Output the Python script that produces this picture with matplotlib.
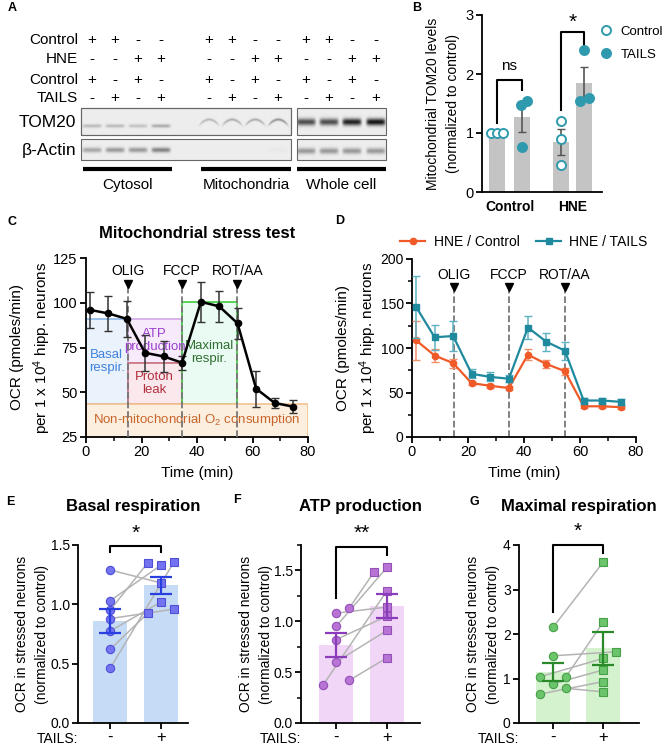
import numpy as np
import matplotlib.pyplot as plt
from matplotlib.patches import Rectangle
from matplotlib.lines import Line2D

plt.rcParams['font.family'] = ['Liberation Sans', 'DejaVu Sans']
plt.rcParams['mathtext.fontset'] = 'custom'
plt.rcParams['mathtext.rm'] = 'Liberation Sans'
plt.rcParams['mathtext.it'] = 'Liberation Sans:italic'
plt.rcParams['axes.linewidth'] = 1.3
plt.rcParams['xtick.major.width'] = 1.3
plt.rcParams['ytick.major.width'] = 1.3
plt.rcParams['xtick.minor.width'] = 1.1
plt.rcParams['ytick.minor.width'] = 1.1

# ---------------- data ----------------
# A: western blot (band darkness per lane)
a_rows = ['Control', 'HNE', 'Control', 'TAILS']
a_signs = [['+', '+', '-', '-'],
           ['-', '-', '+', '+'],
           ['+', '-', '+', '-'],
           ['-', '+', '-', '+']]
a_fractions = ['Cytosol', 'Mitochondria', 'Whole cell']
a_tom20 = [[0.20, 0.20, 0.17, 0.26],
           [0.22, 0.26, 0.26, 0.36],
           [0.62, 0.62, 0.80, 0.85]]
a_actin = [[0.28, 0.33, 0.33, 0.42],
           [0.0, 0.0, 0.0, 0.02],
           [0.33, 0.33, 0.33, 0.33]]

# B: mitochondrial TOM20
b_groups = ['Control', 'HNE']
b_ctrl = [[1.0, 1.0, 1.0], [1.2, 0.9, 0.45]]
b_tails = [[1.47, 1.55, 0.77], [2.4, 1.55, 1.6]]

# C / D: stress test
t_min = [1.5, 8.1, 14.7, 21.3, 28.0, 34.6, 41.4, 48.0, 54.6, 61.3, 68.0, 74.5]
c_ocr = [96, 94, 91, 72, 70, 66.5, 100.5, 98, 88.5, 52, 44, 42]
c_err = [10, 10, 10, 10, 8.5, 4, 11, 8.5, 8.5, 10, 3, 3.5]
c_regions = ['Basal\nrespir.', 'ATP\nproduction', 'Proton\nleak',
             'Maximal\nrespir.', 'Non-mitochondrial O$_2$ consumption']
c_bounds = [(0, 15, 43.5, 91), (15, 34.5, 66.5, 91), (15, 34.5, 43.5, 66.5),
            (34.5, 54.5, 43.5, 100.5), (0, 80, 25, 43.5)]
d_hne_ctrl = [108.5, 91.5, 83, 60.5, 57.5, 55, 92.5, 82, 74, 34.5, 34.5, 33.5]
d_hne_ctrl_err = [21.5, 7, 5, 2, 2, 2, 6, 4, 4, 1.5, 1.5, 1.5]
d_hne_tails = [146, 112, 113.5, 71, 67.5, 65.5, 123, 107, 97, 41, 41, 39.5]
d_hne_tails_err = [35, 14, 17, 5, 5, 4, 13, 10, 10, 3, 3, 3]
injections = ['OLIG', 'FCCP', 'ROT/AA']
inj_time = [15, 34.5, 54.5]

# E / F / G: paired values (TAILS -, TAILS +)
e_ctrl = [1.29, 1.03, 0.95, 0.88, 0.775, 0.62, 0.46]
e_tails = [1.18, 1.33, 1.35, 0.96, 1.02, 0.925, 1.36]
f_ctrl = [1.08, 1.13, 0.95, 0.82, 0.60, 0.42, 0.37]
f_tails = [1.14, 1.48, 1.53, 1.05, 0.91, 0.64, 1.30]
g_ctrl = [2.15, 1.51, 1.04, 1.04, 0.88, 0.78, 0.65]
g_tails = [3.61, 1.60, 2.26, 1.45, 1.19, 0.70, 0.93]
# horizontal jitter slots of the dots
e_dx = ([0, 0, 0, 0, 0, 0, 0], [0, 0, -1, 1, 0, -1, 1])
f_dx = ([0, 1, 0, 0, 0, 1, -1], [0, -1, 0, 0, 0, 0, 0])
g_dx = ([0, 0, 1, -1, 0, 1, -1], [0, 1, 0, 0, 0, 0, 0])

# ---------------- figure ----------------
W, H = 672, 748
fig = plt.figure(figsize=(6.72, 7.48), dpi=100)
ov = fig.add_axes([0, 0, 1, 1])
ov.axis('off')


def px_axes(l, t, r, b):
    return fig.add_axes([l / W, 1 - b / H, (r - l) / W, (b - t) / H])


def T(x, y, s, **kw):
    kw.setdefault('ha', 'center')
    kw.setdefault('va', 'center')
    ov.text(x, y, s, **kw)


def clean(ax):
    ax.spines['top'].set_visible(False)
    ax.spines['right'].set_visible(False)
    ax.tick_params(direction='out', length=4, labelsize=10.5, pad=2)
    ax.tick_params(which='minor', length=3)


# panel letters
for s, x, y in [('A', 8, 8), ('B', 412, 8), ('C', 8, 222), ('D', 335, 221),
                ('E', 6, 502), ('F', 233, 500), ('G', 470, 502)]:
    T(x, y, s, fontsize=9, fontweight='bold', ha='left')

# ---- A ----
lane_x = [[92, 115, 138, 161], [209, 232, 255, 278], [306, 329, 352, 376]]
row_y = [40, 59, 80, 98]
for r, lab in enumerate(a_rows):
    T(78, row_y[r], lab, fontsize=11, ha='right')
    for lx in lane_x:
        for k, x in enumerate(lx):
            T(x, row_y[r], a_signs[r][k], fontsize=11)


def blot(x0, x1, y0, y1, lanes, dark, yc, thick, curve=0.0, wid=19, edge=True):
    xs = np.linspace(x0, x1, int((x1 - x0) * 3))
    ys = np.linspace(y0, y1, int((y1 - y0) * 3))
    X, Y = np.meshgrid(xs, ys)
    img = np.full(X.shape, 0.93)
    for xc, d in zip(lanes, dark):
        yy = yc + curve * (X - xc) ** 2
        img -= d * np.exp(-((X - xc) / (wid / 2)) ** 8) * np.exp(-((Y - yy) / (thick / 2)) ** 2)
    ov.imshow(img, cmap='gray', vmin=0, vmax=1, extent=(x0, x1, y1, y0),
              aspect='auto', interpolation='bilinear')
    if edge:
        ov.add_patch(Rectangle((x0, y0), x1 - x0, y1 - y0, fill=False, ec='#666', lw=0.8))


blot(81, 291, 108, 135, lane_x[0] + lane_x[1], a_tom20[0] + [0, 0, 0, 0], 126, 3.5)
blot(196, 290.5, 108.5, 134.5, lane_x[1], a_tom20[1], 119, 2.5, curve=0.06, edge=False)
ov.add_patch(Rectangle((81, 108), 210, 27, fill=False, ec='#666', lw=0.8))
blot(297, 386, 108, 135, lane_x[2], a_tom20[2], 122, 7)
blot(81, 291, 139, 160, lane_x[0] + lane_x[1], a_actin[0] + a_actin[1], 150, 5)
blot(297, 386, 139, 160, lane_x[2], a_actin[2], 151, 6)
T(76, 122, 'TOM20', fontsize=12.5, ha='right')
T(76, 150, 'β-Actin', fontsize=12.5, ha='right')
for (x0, x1), lab in zip([(83, 172), (201, 291), (297, 386)], a_fractions):
    ov.plot([x0, x1], [169, 169], color='black', lw=3, solid_capstyle='butt')
    T((x0 + x1) / 2, 185, lab, fontsize=11)

# ---- B ----
axB = px_axes(482, 15, 602, 192)
clean(axB)
b_pos = [[0, 1], [2.56, 3.48]]
teal = '#2f9aae'
for g in range(2):
    for k, (pts, filled) in enumerate([(b_ctrl[g], False), (b_tails[g], True)]):
        p = np.array(pts)
        m = p.mean()
        se = p.std(ddof=1) / np.sqrt(len(p))
        x = b_pos[g][k]
        axB.bar(x, m, width=0.64, color='#c4c4c4', zorder=1)
        axB.errorbar(x, m, yerr=se, fmt='none', ecolor='#555', elinewidth=1.2,
                     capsize=3, zorder=2)
        dx = np.array([-0.23, 0, 0.23]) if np.ptp(p) == 0 else np.array([0, 0, 0])
        if g == 0 and k == 1:
            dx = np.array([-0.05, 0.2, 0])
        if g == 1 and k == 1:
            dx = np.array([0, -0.18, 0.18])
        axB.plot(x + dx, p, 'o', ms=6.5, mec=teal, mew=1.4,
                 mfc=teal if filled else 'white', zorder=3)
axB.set_xlim(-0.6, 4.2)
axB.set_ylim(0, 3)
axB.set_yticks([0, 1, 2, 3])
axB.set_xticks([0.5, 3.02])
axB.set_xticklabels(b_groups, fontweight='bold', fontsize=10)
axB.tick_params(axis='x', length=0, pad=6)
axB.set_ylabel('Mitochondrial TOM20 levels\n(normalized to control)', fontsize=10,
               linespacing=1.6, va='center')
axB.yaxis.set_label_coords(-0.325, 0.5)
axB.plot([0, 0, 1, 1], [1.17, 1.9, 1.9, 1.73], color='black', lw=1.5, clip_on=False)
axB.text(0.5, 2.13, 'ns', ha='center', va='center', fontsize=11)
axB.plot([2.56, 2.56, 3.48, 3.48], [1.39, 2.72, 2.72, 2.41], color='black', lw=1.5, clip_on=False)
axB.text(3.02, 2.88, '*', ha='center', va='center', fontsize=15)
hB = [Line2D([], [], ls='none', marker='o', ms=6.5, mec=teal, mew=1.4, mfc='white'),
      Line2D([], [], ls='none', marker='o', ms=6.5, mec=teal, mew=1.4, mfc=teal)]
axB.legend(hB, ['Control', 'TAILS'], loc='upper left', bbox_to_anchor=(0.955, 0.97),
           frameon=False, handlelength=0.6, handletextpad=0.8, fontsize=9.5,
           borderaxespad=0, labelspacing=0.8)

# ---- C ----
axC = px_axes(86, 258, 308, 437)
clean(axC)
reg_face = ['#eaf2fc', '#f7eafb', '#fbe8ec', '#e9fbf3', '#fdefe0']
reg_edge = ['#8db8ea', '#d2a8e8', '#c9737d', '#3ccc3c', '#f3c28e']
reg_text = ['#3f82dc', '#9a40cf', '#b3303f', '#2f6f2f', '#c8652a']
for (x0, x1, y0, y1), fc, ec, tc, lab in zip(c_bounds, reg_face, reg_edge, reg_text, c_regions):
    axC.add_patch(Rectangle((x0, y0), x1 - x0, y1 - y0, fc=fc, ec=ec, lw=1.2, zorder=1))
    axC.text((x0 + x1) / 2, (y0 + y1) / 2, lab, color=tc, ha='center', va='center',
             fontsize=9.5, zorder=2, linespacing=1.1)
for t, lab in zip(inj_time, injections):
    axC.plot([t, t], [25, 109], ls='--', color='#777', lw=1.3, zorder=3)
    axC.plot(t, 110.5, 'v', color='black', ms=5.5, zorder=3)
    axC.text(t, 117.5, lab, ha='center', va='center', fontsize=10)
axC.errorbar(t_min, c_ocr, yerr=c_err, color='black', marker='o', ms=4.5, lw=1.8,
             ecolor='#333', elinewidth=1.1, capsize=3, zorder=5)
axC.set_xlim(0, 80)
axC.set_ylim(25, 125)
axC.set_yticks([25, 50, 75, 100, 125])
axC.set_xticks([0, 20, 40, 60, 80])
axC.set_xticks([10, 30, 50, 70], minor=True)
axC.set_xlabel('Time (min)', fontsize=11, labelpad=5)
axC.set_ylabel('OCR (pmoles/min)\nper 1 x 10$^4$ hipp. neurons', fontsize=11,
               linespacing=1.5, va='center')
axC.yaxis.set_label_coords(-0.245, 0.5)
T(197, 233, 'Mitochondrial stress test', fontsize=12, fontweight='bold')

# ---- D ----
axD = px_axes(412, 259, 636, 437)
clean(axD)
red = '#f05a28'
blue = '#1f8a9e'
for t, lab in zip(inj_time, injections):
    axD.plot([t, t], [0, 167], ls='--', color='#777', lw=1.3, zorder=1)
    axD.plot(t, 169, 'v', color='black', ms=5.5, zorder=1)
    axD.text(t, 182, lab, ha='center', va='center', fontsize=10)
axD.errorbar(t_min, d_hne_ctrl, yerr=d_hne_ctrl_err, color=red, marker='o', ms=4.5,
             lw=1.6, ecolor='#f3906c', elinewidth=1.1, capsize=3, zorder=3,
             label='HNE / Control')
axD.errorbar(t_min, d_hne_tails, yerr=d_hne_tails_err, color=blue, marker='s', ms=4.5,
             lw=1.6, ecolor='#5fb2c2', elinewidth=1.1, capsize=3, zorder=4,
             label='HNE / TAILS')
axD.set_xlim(0, 80)
axD.set_ylim(0, 200)
axD.set_yticks([0, 50, 100, 150, 200])
axD.set_yticks([25, 75, 125, 175], minor=True)
axD.set_xticks([0, 20, 40, 60, 80])
axD.set_xticks([10, 30, 50, 70], minor=True)
axD.tick_params(axis='y', labelsize=10)
axD.set_xlabel('Time (min)', fontsize=11, labelpad=5)
axD.set_ylabel('OCR (pmoles/min)\nper 1 x 10$^4$ hipp. neurons', fontsize=11,
               linespacing=1.5, va='center')
axD.yaxis.set_label_coords(-0.243, 0.5)
hD = [Line2D([], [], color=red, marker='o', ms=4.5, lw=1.6),
      Line2D([], [], color=blue, marker='s', ms=4.5, lw=1.6)]
axD.legend(hD, ['HNE / Control', 'HNE / TAILS'], loc='center', bbox_to_anchor=(0.5, 1.095),
           ncol=2, frameon=False, fontsize=10, handlelength=1.8, columnspacing=1.2,
           handletextpad=0.6, borderaxespad=0)


# ---- E / F / G ----
def paired(box, ctrl, tails, dx, colors, ylim, yticks, minor, title, lab_x,
           bracket, stars, star_y, xlim):
    bar_c, mk_c, mk_e, err_c = colors
    ax = px_axes(*box)
    clean(ax)
    ax.tick_params(labelsize=10)
    c = np.array(ctrl)
    t = np.array(tails)
    means = [c.mean(), t.mean()]
    sems = [c.std(ddof=1) / np.sqrt(len(c)), t.std(ddof=1) / np.sqrt(len(t))]
    ax.bar([0, 1], means, width=0.67, color=bar_c, zorder=1)
    j = 0.26
    xc = np.array(dx[0]) * j
    xt = 1 + np.array(dx[1]) * j
    for i in range(len(c)):
        ax.plot([xc[i], xt[i]], [c[i], t[i]], color='#b4b4b4', lw=1.1, zorder=2)
    ax.plot(xc, c, 'o', ms=6, mfc=mk_c, mec=mk_e, mew=0.8, zorder=3, ls='none')
    ax.plot(xt, t, 's', ms=6, mfc=mk_c, mec=mk_e, mew=0.8, zorder=3, ls='none')
    ax.errorbar([0, 1], means, yerr=sems, fmt='none', ecolor=err_c, elinewidth=1.6,
                capsize=8, capthick=1.6, zorder=4)
    ax.set_xlim(*xlim)
    ax.set_ylim(*ylim)
    ax.set_yticks(yticks)
    if minor:
        ax.set_yticks(minor, minor=True)
    ax.set_xticks([0, 1])
    ax.set_xticklabels(['-', '+'], fontsize=12)
    ax.tick_params(axis='x', pad=1)
    ax.set_ylabel('OCR in stressed neurons\n(normalized to control)', fontsize=10,
                  linespacing=1.55, va='center')
    ax.yaxis.set_label_coords(lab_x, 0.5)
    yl, yb, yr = bracket
    ax.plot([0, 0, 1, 1], [yl, yb, yb, yr], color='black', lw=1.5, clip_on=False)
    ax.text(0.5, star_y, stars, ha='center', va='center', fontsize=15)
    ax.text(0.5, 1 + 38 / 178, title, transform=ax.transAxes, ha='center', va='center',
            fontsize=12, fontweight='bold')
    ax.text(-0.0, -0.09, 'TAILS:', transform=ax.transAxes, ha='right', va='center',
            fontsize=10)
    return ax


paired((78, 545, 188, 723), e_ctrl, e_tails, e_dx,
       ('#c6dcf6', '#7474f0', '#4f4fd8', '#2a3fe0'), (0, 1.5), [0, 0.5, 1.0, 1.5], None,
       'Basal respiration', -0.418, (1.44, 1.49, 1.44), '*', 1.6, (-0.63, 1.53))
paired((301, 545, 420, 723), f_ctrl, f_tails, f_dx,
       ('#f1d6f7', '#b874d4', '#9550b8', '#8a3cba'), (0, 1.75), [0, 0.5, 1.0, 1.5],
       [0.25, 0.75, 1.25, 1.75], 'ATP production', -0.378, (1.225, 1.735, 1.647), '**', 1.86,
       (-0.69, 1.65))
paired((519, 545, 639, 723), g_ctrl, g_tails, g_dx,
       ('#d3f2cd', '#6cc46c', '#46a046', '#2a8a2a'), (0, 4), [0, 1, 2, 3, 4], None,
       'Maximal respiration', -0.30, (2.5, 4.0, 3.82), '*', 4.3, (-0.68, 1.72))

ov.set_xlim(0, W)
ov.set_ylim(H, 0)
fig.savefig('out.png', dpi=100)
